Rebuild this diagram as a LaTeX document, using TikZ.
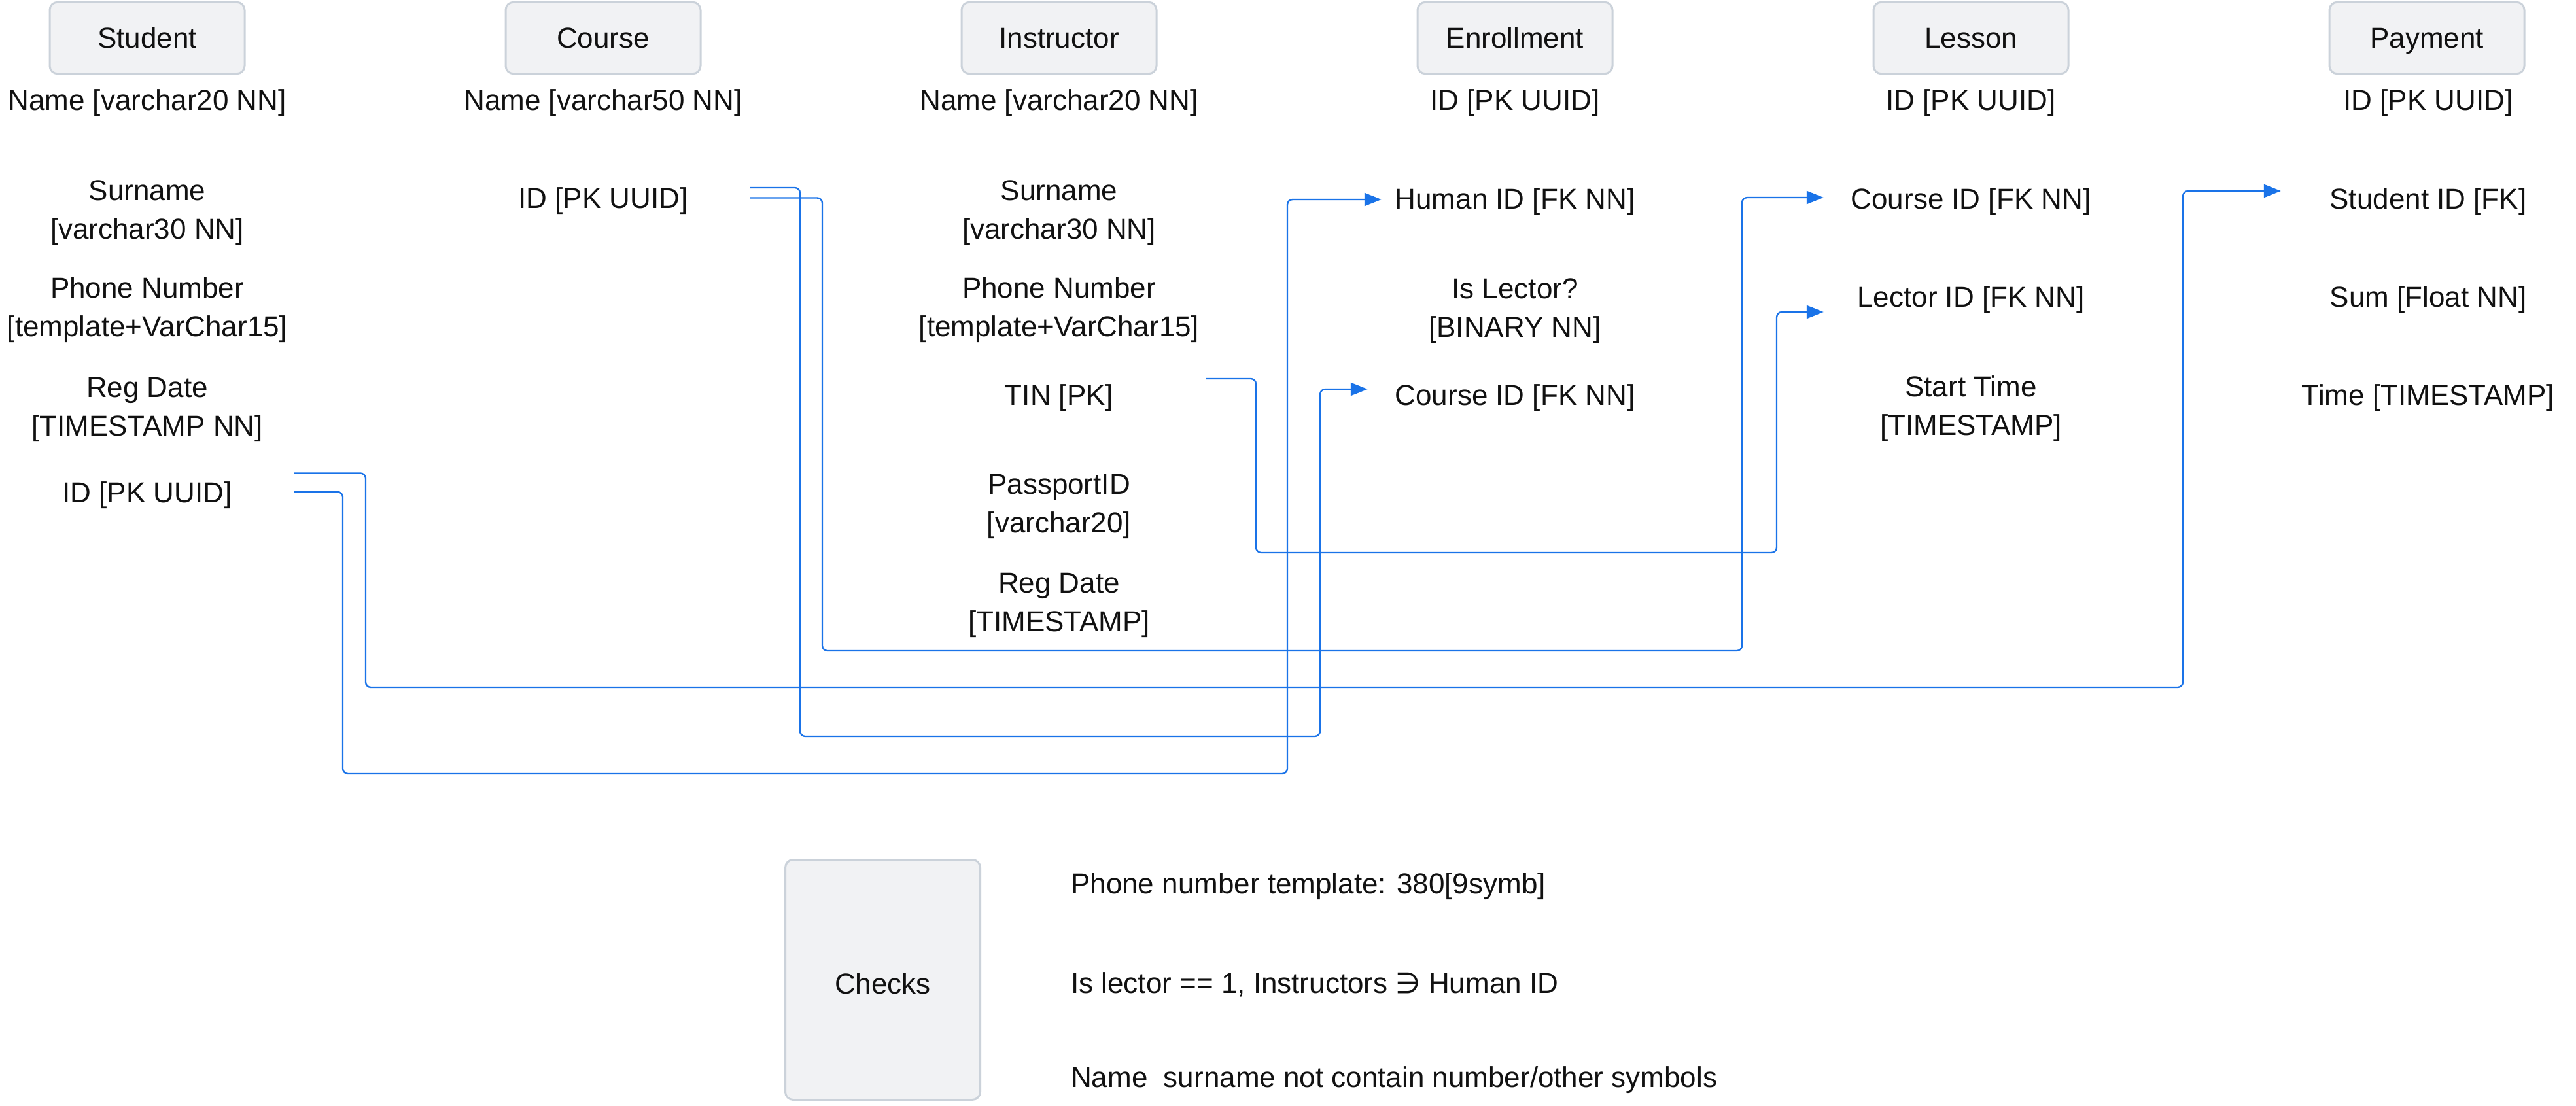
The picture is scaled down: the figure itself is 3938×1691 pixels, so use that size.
\documentclass[tikz,border=0pt]{standalone}
\usepackage{fontspec}
\setmainfont{Liberation Sans}
\newfontfamily\symfont{DejaVu Sans}
\usetikzlibrary{arrows.meta}
\definecolor{linkblue}{HTML}{1A73E8}
\definecolor{boxfill}{HTML}{F1F2F4}
\definecolor{boxline}{HTML}{CBD2DA}
\definecolor{ink}{HTML}{111111}
\begin{document}
\begin{tikzpicture}[x=1pt,y=-1pt,
  every node/.style={font=\fontsize{44}{59}\selectfont, text=ink},
  hdr/.style={draw=boxline, line width=3pt, fill=boxfill, rounded corners=12pt,
    minimum width=298pt, minimum height=109.5pt, inner sep=0pt, text height=32pt, text depth=0pt},
  fldone/.style={minimum width=450pt, inner sep=0pt, text height=32pt, text depth=0pt},
  fldtwo/.style={minimum width=450pt, inner sep=0pt, align=center},
  note/.style={anchor=west, inner sep=0pt, text height=32pt, text depth=0pt},
  conn/.style={draw=linkblue, line width=2.4pt, rounded corners=8pt,
    -{Triangle[length=26pt,width=20pt]}}]
\useasboundingbox (0,0) rectangle (3938,1691);

% Student
\node[hdr] (hstu) at (225,58) {Student};
\node[fldone] (stuname) at (225,152) {Name [varchar20 NN]};
\node[fldtwo] (stusur) at (225,325) {Surname\\{[}varchar30 NN]};
\node[fldtwo] (stuphone) at (225,474) {Phone Number\\{[}template+VarChar15]};
\node[fldtwo] (stureg) at (225,626) {Reg Date\\{[}TIMESTAMP NN]};
\node[fldone] (stuid) at (225,752) {ID [PK UUID]};

% Course
\node[hdr] (hcou) at (922,58) {Course};
\node[fldone] (couname) at (922,152) {Name [varchar50 NN]};
\node[fldone] (couid) at (922,302) {ID [PK UUID]};

% Instructor
\node[hdr] (hins) at (1619,58) {Instructor};
\node[fldone] (insname) at (1619,152) {Name [varchar20 NN]};
\node[fldtwo] (inssur) at (1619,325) {Surname\\{[}varchar30 NN]};
\node[fldtwo] (insphone) at (1619,474) {Phone Number\\{[}template+VarChar15]};
\node[fldone] (instin) at (1619,603) {TIN [PK]};
\node[fldtwo] (inspass) at (1619,774) {PassportID\\{[}varchar20]};
\node[fldtwo] (insreg) at (1619,925) {Reg Date\\{[}TIMESTAMP]};

% Enrollment
\node[hdr] (henr) at (2316,58) {Enrollment};
\node[fldone] (enrid) at (2316,152) {ID [PK UUID]};
\node[fldone] (enrhum) at (2316,303) {Human ID [FK NN]};
\node[fldtwo] (enrlec) at (2316,475) {Is Lector?\\{[}BINARY NN]};
\node[fldone] (enrcou) at (2316,603) {Course ID [FK NN]};

% Lesson
\node[hdr] (hles) at (3013,58) {Lesson};
\node[fldone] (lesid) at (3013,152) {ID [PK UUID]};
\node[fldone] (lescou) at (3013,303) {Course ID [FK NN]};
\node[fldone] (leslec) at (3013,453) {Lector ID [FK NN]};
\node[fldtwo] (lesstart) at (3013,625) {Start Time\\{[}TIMESTAMP]};

% Payment
\node[hdr] (hpay) at (3710,58) {Payment};
\node[fldone] (payid) at (3712,152) {ID [PK UUID]};
\node[fldone] (paystu) at (3712,303) {Student ID [FK]};
\node[fldone] (paysum) at (3712,453) {Sum [Float NN]};
\node[fldone] (paytime) at (3712,603) {Time [TIMESTAMP]};

% Checks
\node[hdr, minimum width=298pt, minimum height=367pt, text height=42pt, text depth=0pt] (checks) at (1349.5,1498) {Checks};
\node[note] (chkone) at (1637,1350) {Phone number template: 380[9symb]};
\node[note] (chktwo) at (1637,1502) {Is lector == 1, Instructors {\symfont ∋} Human ID};
\node[note] (chkthree) at (1637,1646) {Name\ \ surname not contain number/other symbols};

% Connectors
\draw[conn] ([yshift=28.5pt]stuid.east) -- (559,723.5) -- (559,1051) -- (3337,1051)
  -- (3337,292) -- ([yshift=11pt]paystu.west);
\draw[conn] (stuid.east) -- (524,752) -- (524,1183) -- (1968,1183)
  -- (1968,305) -- ([xshift=21pt,yshift=-2pt]enrhum.west);
\draw[conn] ([yshift=15pt]couid.east) -- (1223,287) -- (1223,1126) -- (2018,1126)
  -- (2018,595) -- ([yshift=8pt]enrcou.west);
\draw[conn] ([yshift=-0.5pt]couid.east) -- (1257,302.5) -- (1257,995) -- (2663,995)
  -- (2663,302) -- ([yshift=1pt]lescou.west);
\draw[conn] ([yshift=24pt]instin.east) -- (1920,579) -- (1920,845) -- (2716,845)
  -- (2716,477) -- ([yshift=-24pt]leslec.west);
\end{tikzpicture}
\end{document}
